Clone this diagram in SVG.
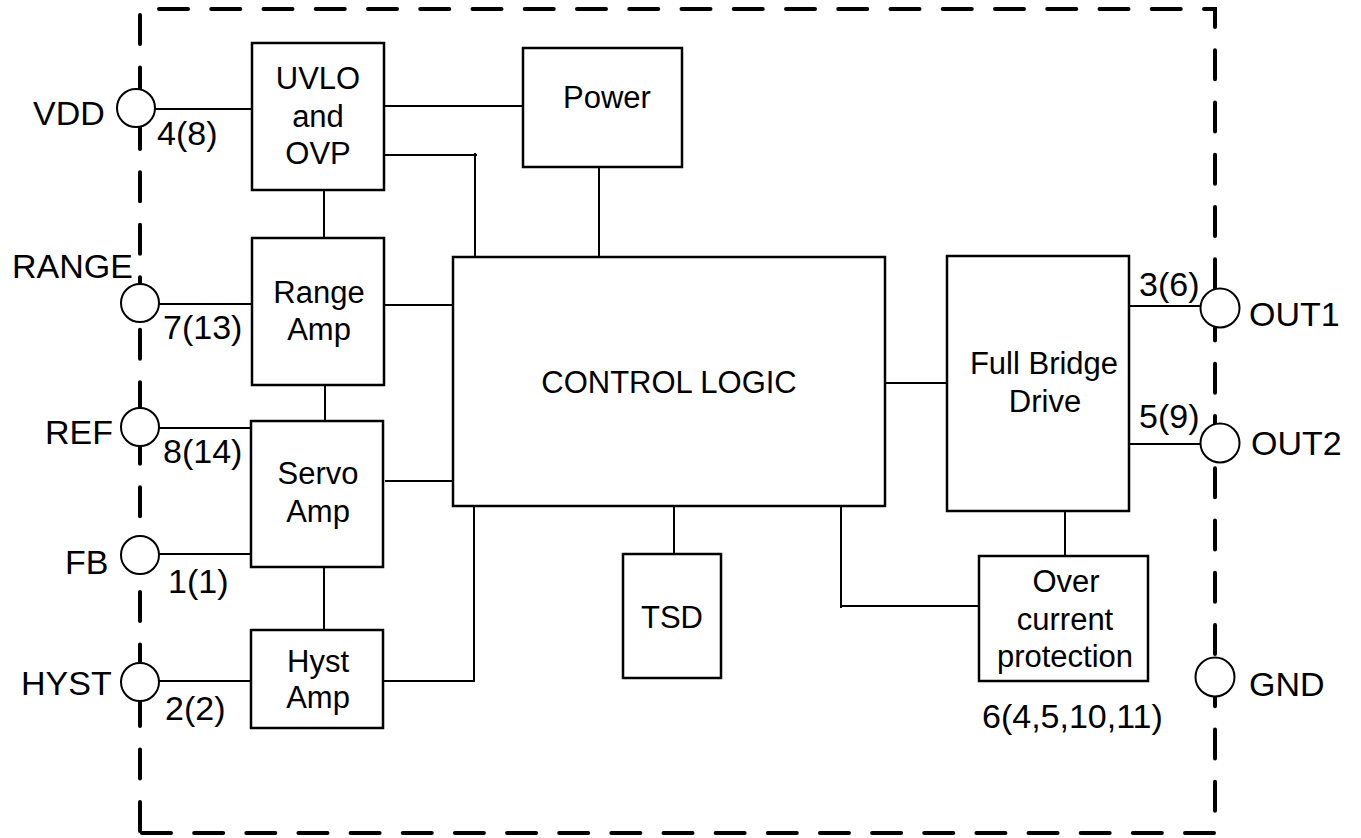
<svg xmlns="http://www.w3.org/2000/svg" width="1361" height="838" viewBox="0 0 1361 838">
<style>
.border{fill:none;stroke:#000;stroke-width:4;stroke-linecap:round}
.box{fill:#fff;stroke:#000;stroke-width:2.5}
.pin{fill:#fff;stroke:#000;stroke-width:2}
.wire{fill:none;stroke:#000;stroke-width:2}
.bt{font-family:"Liberation Sans",Arial,sans-serif;font-size:31px;fill:#000;text-anchor:middle}
.pt{font-family:"Liberation Sans",Arial,sans-serif;font-size:34px;fill:#000}
</style>
<rect width="1361" height="838" fill="#fff"/>
<g id="border">
<path class="border" d="M159,9 H1215 V811" stroke-dasharray="29 23.25"/>
<path class="border" d="M142,833 H1215" stroke-dasharray="29 23.15"/>
<path class="border" d="M140,831 V15" stroke-dasharray="29 23.47"/>
</g>
<g id="connectors">
<line class="wire" x1="155" y1="109" x2="252" y2="109"/>
<line class="wire" x1="384" y1="106" x2="523" y2="106"/>
<line class="wire" x1="383" y1="155" x2="477" y2="155"/>
<line class="wire" x1="475" y1="153" x2="475" y2="259"/>
<line class="wire" x1="599" y1="163" x2="599" y2="257"/>
<line class="wire" x1="324" y1="190" x2="324" y2="238"/>
<line class="wire" x1="159" y1="304" x2="252" y2="304"/>
<line class="wire" x1="383" y1="305" x2="453" y2="305"/>
<line class="wire" x1="325" y1="385" x2="325" y2="421"/>
<line class="wire" x1="159" y1="428" x2="251" y2="428"/>
<line class="wire" x1="385" y1="481" x2="453" y2="481"/>
<line class="wire" x1="159" y1="554" x2="251" y2="554"/>
<line class="wire" x1="324" y1="567" x2="324" y2="630"/>
<line class="wire" x1="159" y1="681" x2="251" y2="681"/>
<polyline class="wire" points="383,681 474,681 474,504"/>
<line class="wire" x1="674" y1="506" x2="674" y2="554"/>
<line class="wire" x1="841" y1="503" x2="841" y2="608"/>
<line class="wire" x1="840" y1="606" x2="985" y2="606"/>
<line class="wire" x1="885" y1="383" x2="947" y2="383"/>
<line class="wire" x1="1129" y1="306" x2="1201" y2="306"/>
<line class="wire" x1="1129" y1="444" x2="1200" y2="444"/>
<line class="wire" x1="1065" y1="511" x2="1065" y2="556"/>
</g>
<g id="uvlo">
<rect class="box" x="252" y="43" width="132" height="147"/>
<text class="bt" x="318" y="89">UVLO</text>
<text class="bt" x="318" y="127">and</text>
<text class="bt" x="318" y="164">OVP</text>
</g>
<g id="power">
<rect class="box" x="523" y="48" width="159" height="119"/>
<text class="bt" x="607" y="108">Power</text>
</g>
<g id="range-amp">
<rect class="box" x="252" y="238" width="132" height="147"/>
<text class="bt" x="319" y="303">Range</text>
<text class="bt" x="319" y="340">Amp</text>
</g>
<g id="servo-amp">
<rect class="box" x="251" y="421" width="132" height="146"/>
<text class="bt" x="318" y="484">Servo</text>
<text class="bt" x="318" y="522">Amp</text>
</g>
<g id="hyst-amp">
<rect class="box" x="251" y="630" width="132" height="98"/>
<text class="bt" x="318" y="672">Hyst</text>
<text class="bt" x="318" y="708">Amp</text>
</g>
<g id="control-logic">
<rect class="box" x="453" y="257" width="432" height="249"/>
<text class="bt" x="669" y="393">CONTROL LOGIC</text>
</g>
<g id="tsd">
<rect class="box" x="623" y="554" width="98" height="124"/>
<text class="bt" x="672" y="628">TSD</text>
</g>
<g id="full-bridge-drive">
<rect class="box" x="947" y="256" width="182" height="255"/>
<text class="bt" x="1044" y="374">Full Bridge</text>
<text class="bt" x="1045" y="412">Drive</text>
</g>
<g id="over-current">
<rect class="box" x="979" y="556" width="169" height="125"/>
<text class="bt" x="1066" y="592">Over</text>
<text class="bt" x="1065" y="630">current</text>
<text class="bt" x="1065" y="667">protection</text>
</g>
<g id="pin-vdd">
<circle class="pin" cx="136" cy="108" r="19"/>
<text class="pt" x="33" y="125">VDD</text>
<text class="pt" x="157" y="145">4(8)</text>
</g>
<g id="pin-range">
<circle class="pin" cx="140" cy="303" r="19"/>
<text class="pt" x="12" y="278">RANGE</text>
<text class="pt" x="163" y="339">7(13)</text>
</g>
<g id="pin-ref">
<circle class="pin" cx="140" cy="427" r="19"/>
<text class="pt" x="45" y="444">REF</text>
<text class="pt" x="163" y="463">8(14)</text>
</g>
<g id="pin-fb">
<circle class="pin" cx="140" cy="555" r="19"/>
<text class="pt" x="65" y="574">FB</text>
<text class="pt" x="168" y="593">1(1)</text>
</g>
<g id="pin-hyst">
<circle class="pin" cx="140" cy="682" r="19"/>
<text class="pt" x="21" y="695">HYST</text>
<text class="pt" x="165" y="720">2(2)</text>
</g>
<g id="pin-out1">
<circle class="pin" cx="1220" cy="308" r="19.5"/>
<text class="pt" x="1249" y="326">OUT1</text>
<text class="pt" x="1139" y="296">3(6)</text>
</g>
<g id="pin-out2">
<circle class="pin" cx="1220" cy="443" r="19.5"/>
<text class="pt" x="1251" y="455">OUT2</text>
<text class="pt" x="1139" y="428">5(9)</text>
</g>
<g id="pin-gnd">
<circle class="pin" cx="1215" cy="677" r="19.5"/>
<text class="pt" x="1249" y="696">GND</text>
<text class="pt" x="982" y="728">6(4,5,10,11)</text>
</g>
</svg>
